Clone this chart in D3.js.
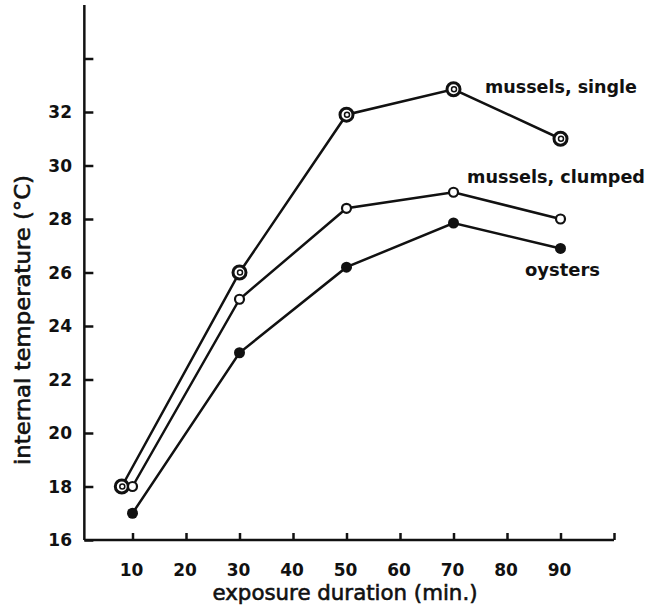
<!DOCTYPE html>
<html>
<head>
<meta charset="utf-8">
<script src="https://cdn.jsdelivr.net/npm/d3@7"></script>
<style>
  body { margin: 0; background: #fff; }
  text { font-family: "DejaVu Sans", sans-serif; fill: #111; }
</style>
</head>
<body>
<script>
// exposure duration (min.) vs internal temperature (C)
var singleX = [8, 30, 50, 70, 90],
    singleY = [18, 26, 31.9, 32.85, 31];
var clumpedX = [10, 30, 50, 70, 90],
    clumpedY = [18, 25, 28.4, 29, 28];
var oysterX = [10, 30, 50, 70, 90],
    oysterY = [17, 23, 26.2, 27.85, 26.9];

var xTicks = [10, 20, 30, 40, 50, 60, 70, 80, 90, 100],
    yTicks = [16, 18, 20, 22, 24, 26, 28, 30, 32, 34];

var seriesNames = ["mussels, single", "mussels, clumped", "oysters"];

var width = 650, height = 610;

var svg = d3.select("body")
    .append("svg")
    .attr("width", width)
    .attr("height", height);

var x = d3.scaleLinear().domain([0, 100]).range([79, 614]);
var y = d3.scaleLinear().domain([16, 36]).range([540, 5]);

// y axis
var yAxis = d3.axisRight(y)
    .tickValues(yTicks)
    .tickSize(9)
    .tickFormat("");

var gy = svg.append("g")
    .attr("transform", "translate(" + x(1) + ",0)")
    .call(yAxis);
gy.select(".domain").attr("d", "M0," + y(36) + "V" + y(16));
gy.selectAll("path, line").attr("stroke", "#111").attr("stroke-width", 2.5);

svg.selectAll(".ylab")
    .data(yTicks.filter(function(d) { return d <= 32; }))
    .enter()
    .append("text")
    .attr("class", "ylab")
    .attr("x", 72)
    .attr("y", function(d) { return y(d) + 6; })
    .attr("text-anchor", "end")
    .attr("font-size", "17px")
    .attr("font-weight", "700")
    .text(function(d) { return d; });

// x axis
var xAxis = d3.axisTop(x)
    .tickValues(xTicks)
    .tickSize(7)
    .tickFormat("");

var gx = svg.append("g")
    .attr("transform", "translate(0," + y(16) + ")")
    .call(xAxis);
gx.select(".domain").attr("d", "M" + x(1) + ",0H" + x(100));
gx.selectAll("path, line").attr("stroke", "#111").attr("stroke-width", 2.5);

svg.selectAll(".xlab")
    .data(xTicks.filter(function(d) { return d <= 90; }))
    .enter()
    .append("text")
    .attr("class", "xlab")
    .attr("x", function(d) { return x(d) - 1; })
    .attr("y", 576)
    .attr("text-anchor", "middle")
    .attr("font-size", "17px")
    .attr("font-weight", "700")
    .text(function(d) { return d; });

// axis titles
svg.append("text")
    .attr("x", 345)
    .attr("y", 600)
    .attr("text-anchor", "middle")
    .attr("font-size", "21px")
    .attr("stroke", "#111")
    .attr("stroke-width", 0.6)
    .attr("textLength", 265)
    .attr("lengthAdjust", "spacingAndGlyphs")
    .text("exposure duration (min.)");

svg.append("text")
    .attr("transform", "translate(30,320) rotate(-90)")
    .attr("text-anchor", "middle")
    .attr("font-size", "21px")
    .attr("stroke", "#111")
    .attr("stroke-width", 0.6)
    .attr("textLength", 290)
    .attr("lengthAdjust", "spacingAndGlyphs")
    .text("internal temperature (°C)");

// lines
var line = d3.line()
    .x(function(d) { return x(d[0]); })
    .y(function(d) { return y(d[1]); });

var series = [
    d3.zip(singleX, singleY),
    d3.zip(clumpedX, clumpedY),
    d3.zip(oysterX, oysterY)
];

series.forEach(function(s) {
    svg.append("path")
        .datum(s)
        .attr("d", line)
        .attr("fill", "none")
        .attr("stroke", "#111")
        .attr("stroke-width", 2.5);
});

// markers: mussels, single
svg.selectAll(".single")
    .data(series[0])
    .enter()
    .append("circle")
    .attr("class", "single")
    .attr("cx", function(d) { return x(d[0]); })
    .attr("cy", function(d) { return y(d[1]); })
    .attr("r", 6.5)
    .attr("fill", "#fff")
    .attr("stroke", "#111")
    .attr("stroke-width", 3);

svg.selectAll(".singleIn")
    .data(series[0])
    .enter()
    .append("circle")
    .attr("class", "singleIn")
    .attr("cx", function(d) { return x(d[0]) + 0.5; })
    .attr("cy", function(d) { return y(d[1]); })
    .attr("r", 2.5)
    .attr("fill", "none")
    .attr("stroke", "#111")
    .attr("stroke-width", 1.5);

// mussels, clumped
svg.selectAll(".clumped")
    .data(series[1])
    .enter()
    .append("circle")
    .attr("class", "clumped")
    .attr("cx", function(d) { return x(d[0]); })
    .attr("cy", function(d) { return y(d[1]); })
    .attr("r", 4.5)
    .attr("fill", "#fff")
    .attr("stroke", "#111")
    .attr("stroke-width", 2.2);

// oysters
svg.selectAll(".oyster")
    .data(series[2])
    .enter()
    .append("circle")
    .attr("class", "oyster")
    .attr("cx", function(d) { return x(d[0]); })
    .attr("cy", function(d) { return y(d[1]); })
    .attr("r", 5.5)
    .attr("fill", "#111");

// series labels
var labelPos = [[485, 93, 152], [467, 183, 178], [525, 276, 75]];
svg.selectAll(".slab")
    .data(seriesNames)
    .enter()
    .append("text")
    .attr("class", "slab")
    .attr("x", function(d, i) { return labelPos[i][0]; })
    .attr("y", function(d, i) { return labelPos[i][1]; })
    .attr("font-size", "17px")
    .attr("font-weight", "700")
    .attr("textLength", function(d, i) { return labelPos[i][2]; })
    .attr("lengthAdjust", "spacingAndGlyphs")
    .text(function(d) { return d; });
</script>
</body>
</html>
